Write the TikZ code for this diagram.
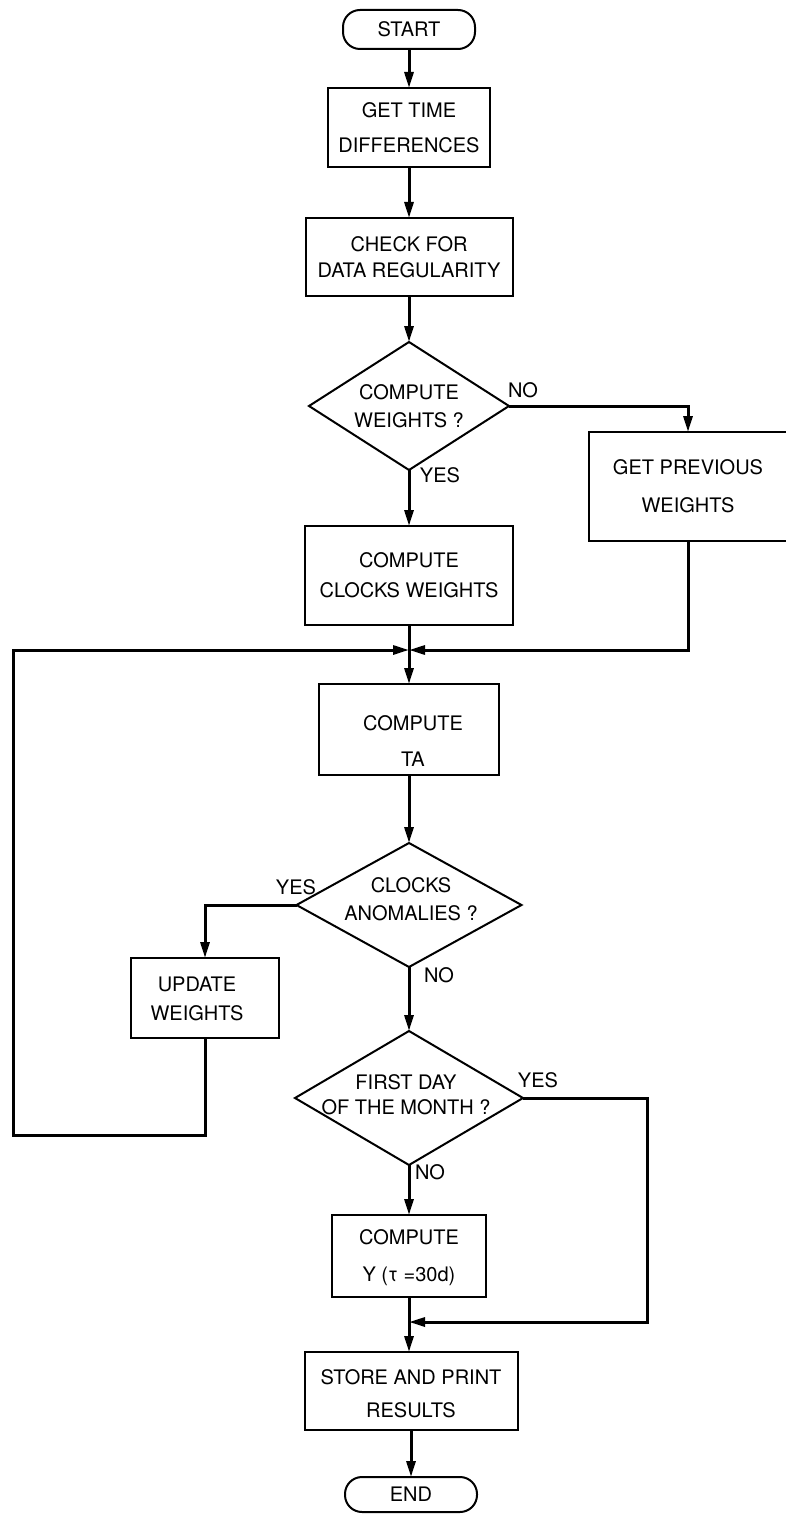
\documentclass[tikz,border=0pt]{standalone}
\usepackage{fontspec}
\setmainfont{TeX Gyre Heros}
\usetikzlibrary{arrows.meta,shapes.geometric}
\begin{document}
\begin{tikzpicture}[x=1pt,y=-1pt,
  every node/.style={font=\fontsize{20}{24}\selectfont, align=center, inner sep=0pt, outer sep=0pt},
  box/.style={draw, line width=2pt, rectangle},
  term/.style={draw, line width=2pt, rectangle, rounded corners=17pt},
  dia/.style={draw, line width=2pt, diamond, shape aspect=1},
  flow/.style={line width=3pt, -{Triangle[length=16pt,width=9pt]}},
  conn/.style={line width=3pt},
  lab/.style={font=\fontsize{20}{24}\selectfont}
]
\useasboundingbox (0,0) rectangle (786,1514);

% main column
\node[term, minimum width=132pt, minimum height=39pt] (start) at (409,29.5) {START};
\node[box, minimum width=162pt, minimum height=79pt] (gettime) at (409,127.5) {GET TIME\\[11pt]DIFFERENCES};
\node[box, minimum width=207pt, minimum height=78pt] (check) at (409,257) {CHECK FOR\\[2pt]DATA REGULARITY};
\node[dia, minimum width=200pt, minimum height=128pt] (d1) at (409,406) {};
\node (d1t) at (409,406) {COMPUTE\\[4pt]WEIGHTS ?};
\node[box, minimum width=198pt, minimum height=109pt] (prev) at (688,486.5) {GET PREVIOUS\\[14pt]WEIGHTS};
\node[box, minimum width=208pt, minimum height=99pt] (clocks) at (409,575.5) {COMPUTE\\[6pt]CLOCKS WEIGHTS};
\coordinate (m1) at (409,650);
\node[box, minimum width=180pt, minimum height=91pt] (ta) at (409,729.5) {};
\node (tat) at (413,741) {COMPUTE\\[12pt]TA};
\node[dia, minimum width=225pt, minimum height=124pt] (d2) at (409,905) {};
\node (d2t) at (411,899) {CLOCKS\\[4pt]ANOMALIES ?};
\node[box, minimum width=148pt, minimum height=80pt] (upd) at (205,998) {};
\node (updt) at (197,998.5) {UPDATE\\[5pt]WEIGHTS};
\node[dia, minimum width=228pt, minimum height=134pt] (d3) at (409,1098) {};
\node (d3t) at (406,1094.5) {FIRST DAY\\[1pt]OF THE MONTH ?};
\node[box, minimum width=154pt, minimum height=82pt] (cy) at (409,1256) {};
\node (cyt) at (409,1258) {COMPUTE\\[13pt]Y (τ =30d)};
\coordinate (m2) at (409,1322);
\node[box, minimum width=213pt, minimum height=78pt] (store) at (411,1391) {};
\node (storet) at (411,1393.5) {STORE AND PRINT\\[9pt]RESULTS};
\node[term, minimum width=132pt, minimum height=35pt] (end) at (411,1494.5) {END};

% loop corners
\coordinate (lb) at (205,1135);
\coordinate (lc) at (13,1135);
\coordinate (lt) at (13,650);
\coordinate (rb) at (647,1322);

% connectors
\draw[flow] (start.south) -- (gettime.north);
\draw[flow] (gettime.south) -- (check.north);
\draw[flow] (check.south) -- (d1.north);
\draw[flow] (d1.south) -- (clocks.north);
\draw[flow] (d1.east) -| (prev.north);
\draw[flow] (clocks.south) -- (ta.north);
\draw[flow] (prev.south) |- (m1);
\draw[flow] (upd.south) -- (lb) -- (lc) -- (lt) -- (m1);
\draw[flow] (ta.south) -- (d2.north);
\draw[flow] (d2.west) -| (upd.north);
\draw[flow] (d2.south) -- (d3.north);
\draw[flow] (d3.south) -- (cy.north);
\draw[flow] (d3.east) -| (rb) -- (m2);
\draw[flow] (cy.south) -- (cy.south |- store.north);
\draw[flow] (store.south -| end.north) -- (end.north);

% labels
\node[lab] (no1) at (523,390) {NO};
\node[lab] (yes1) at (440,475) {YES};
\node[lab] (yes2) at (296,887) {YES};
\node[lab] (no2) at (439,975) {NO};
\node[lab] (yes3) at (538,1080) {YES};
\node[lab] (no3) at (430,1172) {NO};
\end{tikzpicture}
\end{document}
